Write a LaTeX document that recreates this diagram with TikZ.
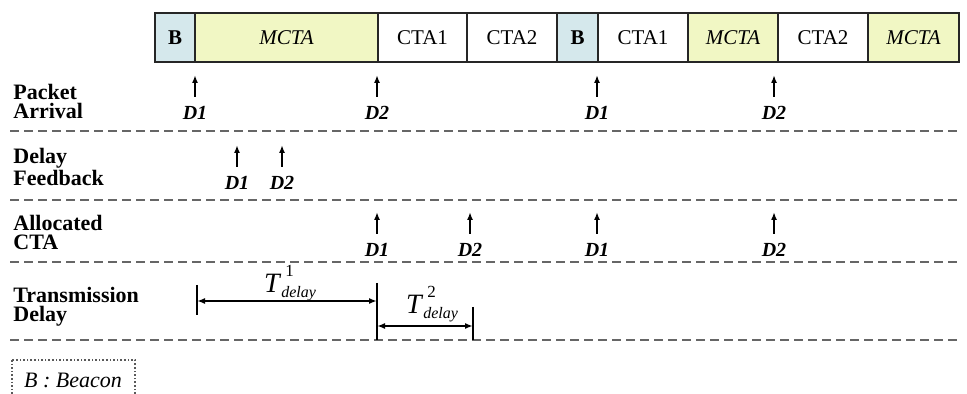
\documentclass[tikz,border=0pt]{standalone}
\usepackage{fontspec}
\setmainfont{Liberation Serif}
\usepackage{xcolor}
\usepackage{tikz}
\usetikzlibrary{positioning, arrows.meta}

\definecolor{beaconblue}{RGB}{213,232,236}
\definecolor{mctayellow}{RGB}{241,247,196}

\newcommand{\tdelay}[1]{\textit{\fontsize{14}{14}\selectfont T}\rlap{\hspace{2pt}\raisebox{8pt}{\fontsize{8.5}{8.5}\selectfont #1}}\raisebox{-2.5pt}{\fontsize{8}{8}\selectfont\textit{delay}}}

\tikzset{
  slot/.style={draw=black!85, line width=1pt, outer sep=0pt, inner sep=0pt,
    minimum height=24.5pt, font=\fontsize{10.5}{12}\selectfont},
  bcn/.style={slot, fill=beaconblue, minimum width=20pt, font=\fontsize{10.5}{12}\selectfont\bfseries},
  mcta/.style={slot, fill=mctayellow, font=\fontsize{10.5}{12}\selectfont\itshape},
  rowlab/.style={anchor=west, align=left, inner sep=0pt, font=\fontsize{11}{9.5}\selectfont\bfseries},
  dlab/.style={inner sep=1pt, font=\fontsize{10}{12}\selectfont\bfseries\itshape},
  evt/.style={-{Latex[length=4pt,width=3pt]}, line width=0.8pt, shorten <=3.5pt},
  sep/.style={dashed, dash pattern=on 4.5pt off 2.5pt, line width=0.9pt, gray!80!black},
  dim/.style={{Latex[length=4pt,width=3pt]}-{Latex[length=4pt,width=3pt]}, line width=0.8pt},
  tick/.style={line width=0.8pt}
}

\begin{document}
\begin{tikzpicture}[x=0.5pt,y=-0.5pt]
  \useasboundingbox (0,0) rectangle (967,394);

  % superframe
  \node[bcn, anchor=north west] (b1) at (155,13) {B};
  \node[mcta, minimum width=91.5pt, right=0pt of b1] (m1) {MCTA};
  \node[slot, minimum width=44.5pt, right=0pt of m1] (c1) {CTA1};
  \node[slot, minimum width=45pt, right=0pt of c1] (c2) {CTA2};
  \node[bcn, minimum width=20.5pt, right=0pt of c2] (b2) {B};
  \node[slot, minimum width=45pt, right=0pt of b2] (c3) {CTA1};
  \node[mcta, minimum width=45pt, right=0pt of c3] (m2) {MCTA};
  \node[slot, minimum width=45pt, right=0pt of m2] (c4) {CTA2};
  \node[mcta, minimum width=45.5pt, right=0pt of c4] (m3) {MCTA};

  % row titles
  \node[rowlab] (packet) at (13,101) {Packet\\Arrival};
  \node[rowlab] (feedback) at (13,167) {Delay\\Feedback};
  \node[rowlab] (alloc) at (13,232) {Allocated\\CTA};
  \node[rowlab] (trans) at (13,307) {Transmission\\Delay};

  % events
  \foreach \n/\x/\y/\t in {pa1/195/113/D1, pa2/377/113/D2, pa3/597/113/D1, pa4/774/113/D2,
                           fb1/237/183/D1, fb2/282/183/D2,
                           al1/377/250/D1, al2/470/250/D2, al3/597/250/D1, al4/774/250/D2} {
    \node[dlab] (\n) at (\x,\y) {\t};
    \coordinate (\n-t) at (\x,\y-38);
    \draw[evt] (\n) -- (\n-t);
  }

  % separators
  \foreach \y [count=\i] in {131,200,262,340} {
    \coordinate (s\i a) at (10,\y);
    \coordinate (s\i b) at (962,\y);
    \draw[sep] (s\i a) -- (s\i b);
  }

  % transmission delays
  \coordinate (k1a) at (197,285); \coordinate (k1b) at (197,315);
  \coordinate (k2a) at (377,283); \coordinate (k2b) at (377,340);
  \coordinate (k3a) at (473,307); \coordinate (k3b) at (473,340);
  \draw[tick] (k1a) -- (k1b);
  \draw[tick] (k2a) -- (k2b);
  \draw[tick] (k3a) -- (k3b);
  \coordinate (d1a) at (197,301); \coordinate (d1b) at (377,301);
  \coordinate (d2a) at (377,326); \coordinate (d2b) at (473,326);
  \draw[dim] (d1a) -- (d1b);
  \draw[dim] (d2a) -- (d2b);
  \node (t1) at (290,283) {\tdelay{1}};
  \node (t2) at (432,304) {\tdelay{2}};

  % legend
  \draw[densely dotted, line width=0.8pt, gray!70!black] (12,360) rectangle (135,400);
  \node[font=\fontsize{11}{12}\selectfont\itshape] (legend) at (73,380) {B : Beacon};
\end{tikzpicture}
\end{document}
